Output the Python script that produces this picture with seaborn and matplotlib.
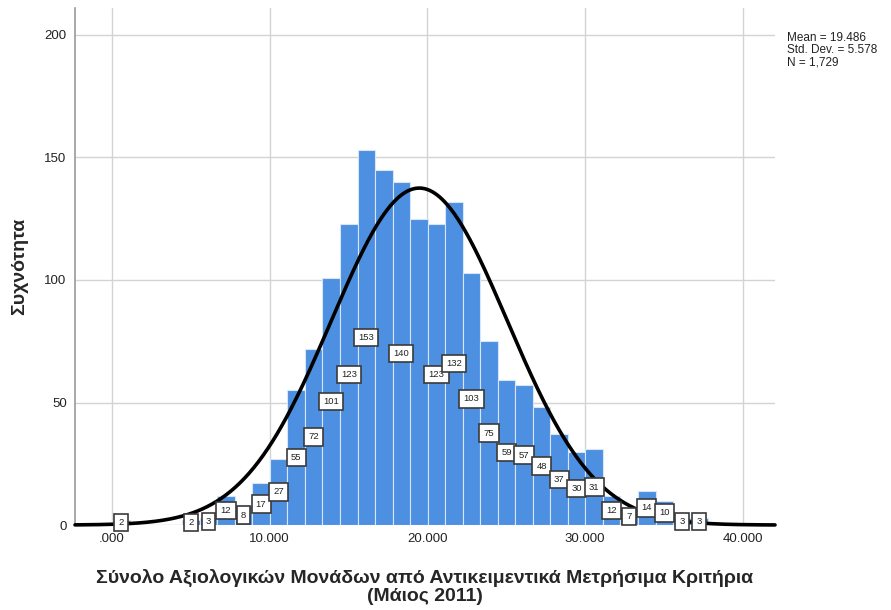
import numpy as np
import pandas as pd
import matplotlib
matplotlib.use("Agg")
import matplotlib.pyplot as plt
import seaborn as sns

# Histogram counts per bin (bin index 0..33, width ~1.112)
bin_width = 1.112
counts = [2, 0, 0, 0, 2, 3, 12, 8, 17, 27, 55, 72, 101, 123, 153, 145, 140,
          125, 123, 132, 103, 75, 59, 57, 48, 37, 30, 31, 12, 7, 14, 10, 3, 3]
# bars whose labels SPSS hid because of overlap
hidden_labels = [15, 17]

mean_val = 19.486
sd_val = 5.578
n_total = 1729

x_ticks = [0, 10, 20, 30, 40]
x_tick_labels = [".000", "10.000", "20.000", "30.000", "40.000"]
y_ticks = [0, 50, 100, 150, 200]

sns.set_style("whitegrid")
plt.rcParams["font.family"] = ["Liberation Sans", "DejaVu Sans"]

edges = [bin_width * k for k in range(len(counts) + 1)]
centers = [(a + b) / 2 for a, b in zip(edges[:-1], edges[1:])]
df = pd.DataFrame({"center": centers, "count": counts})

fig = plt.figure(figsize=(8.91, 6.10), dpi=100)
ax = fig.add_axes([0.0842, 0.1393, 0.7856, 0.8476])

sns.histplot(data=df, x="center", weights="count", bins=edges, ax=ax,
             color="#4d8fe0", alpha=1.0, edgecolor="#d6e6f8", linewidth=0.8,
             zorder=2)

# fitted normal curve
xlim = (-2.35, 42.05)
xs = np.linspace(xlim[0], xlim[1], 600)
ys = n_total * bin_width / (sd_val * np.sqrt(2 * np.pi)) * np.exp(-0.5 * ((xs - mean_val) / sd_val) ** 2)
sns.lineplot(x=xs, y=ys, ax=ax, color="black", linewidth=2.6, zorder=4)
ax.lines[-1].set_clip_on(False)

# data labels at half bar height
for i, (c, v) in enumerate(zip(centers, counts)):
    if v == 0 or i in hidden_labels:
        continue
    ax.text(c, v / 2, str(v), ha="center", va="center", fontsize=6.8,
            color="#222222", zorder=5,
            bbox=dict(boxstyle="square,pad=0.45", fc="white", ec="#3a3a3a", lw=1.2))

ax.set_xlim(*xlim)
ax.set_ylim(0, 211)
ax.set_xticks(x_ticks)
ax.set_xticklabels(x_tick_labels)
ax.set_yticks(y_ticks)
ax.tick_params(axis="both", length=0, labelsize=9.5, colors="#222222", pad=6)

ax.grid(True, color="#d3d3d3", linewidth=1.0, zorder=0)
ax.set_axisbelow(True)
for side in ["top", "right", "bottom"]:
    ax.spines[side].set_visible(False)
ax.spines["left"].set_color("#9a9a9a")
ax.spines["left"].set_linewidth(1.2)

ax.set_ylabel("Συχνότητα", fontsize=14, fontweight="bold", labelpad=12)
ax.set_xlabel("Σύνολο Αξιολογικών Μονάδων από Αντικειμεντικά Μετρήσιμα Κριτήρια\n(Μάιος 2011)",
              fontsize=14, fontweight="bold", linespacing=1.05, labelpad=17)

fig.text(0.883, 0.947, "Mean = 19.486\nStd. Dev. = 5.578\nN = 1,729",
         fontsize=8.5, va="top", ha="left", linespacing=1.0, color="#222222")

fig.savefig("out.png", dpi=100)
